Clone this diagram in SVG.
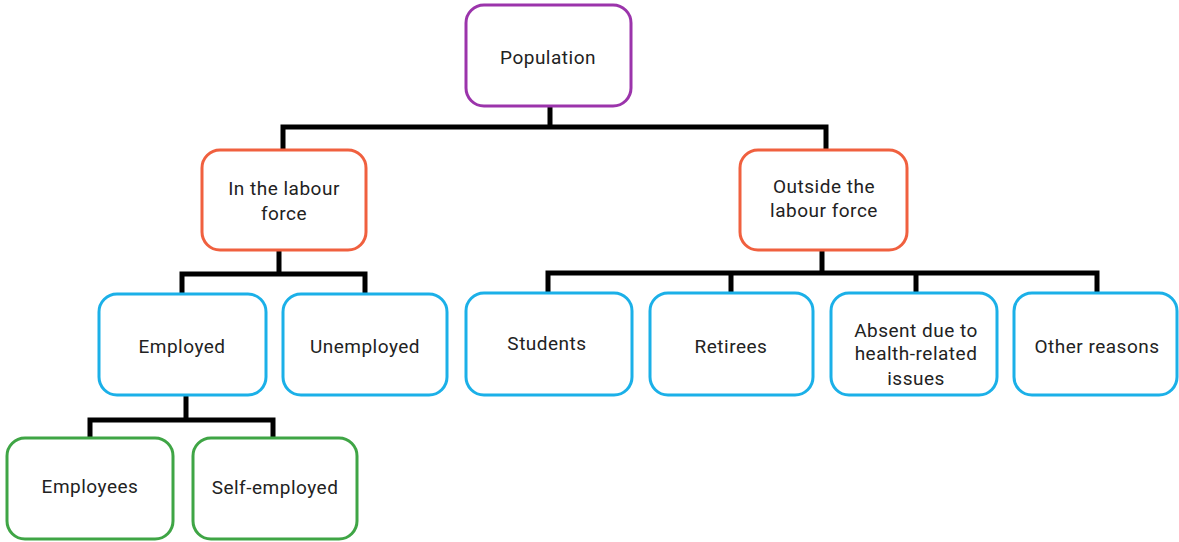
<svg xmlns="http://www.w3.org/2000/svg" width="1179" height="542" viewBox="0 0 1179 542">
<style>
.n{fill:#fff;stroke-width:3}
.p{stroke:#9b34ab}
.o{stroke:#f0603f}
.b{stroke:#1bb0e8}
.g{stroke:#3fa545}
text{font-family:Roboto,"Liberation Sans",sans-serif;font-size:19px;letter-spacing:0.5px;fill:#222;text-anchor:middle}
.c{fill:none;stroke:#000;stroke-width:5;stroke-linejoin:miter}
</style>
<rect width="1179" height="542" fill="#fff"/>
<g id="connectors">
<path class="c" d="M550,106V127M283,150V127H826V150"/>
<path class="c" d="M279,250V274M182,294V274H365V294"/>
<path class="c" d="M822,250V273M548,293V273H1097V293M731,273V293M916,273V293"/>
<path class="c" d="M186,395V420M90,438V420H273V438"/>
</g>
<g id="population"><rect class="n p" x="466" y="5" width="165" height="101" rx="18"/><text x="548" y="64">Population</text></g>
<g id="in-labour"><rect class="n o" x="202" y="150" width="164" height="100" rx="18"/><text x="284" y="195">In the labour</text><text x="284" y="220">force</text></g>
<g id="outside-labour"><rect class="n o" x="740" y="150" width="167" height="100" rx="18"/><text x="824" y="193">Outside the</text><text x="824" y="217">labour force</text></g>
<g id="employed"><rect class="n b" x="99" y="294" width="167" height="101" rx="18"/><text x="182" y="353">Employed</text></g>
<g id="unemployed"><rect class="n b" x="283" y="294" width="164" height="101" rx="18"/><text x="365" y="353">Unemployed</text></g>
<g id="students"><rect class="n b" x="466" y="293" width="166" height="102" rx="18"/><text x="547" y="350">Students</text></g>
<g id="retirees"><rect class="n b" x="650" y="293" width="163" height="102" rx="18"/><text x="731" y="353">Retirees</text></g>
<g id="absent"><rect class="n b" x="831" y="293" width="166" height="102" rx="18"/><text x="916" y="337">Absent due to</text><text x="916" y="360">health-related</text><text x="916" y="385">issues</text></g>
<g id="other"><rect class="n b" x="1014" y="293" width="163" height="102" rx="18"/><text x="1097" y="353">Other reasons</text></g>
<g id="employees"><rect class="n g" x="7" y="438" width="166" height="101" rx="18"/><text x="90" y="493">Employees</text></g>
<g id="self-employed"><rect class="n g" x="193" y="438" width="164" height="101" rx="18"/><text x="275" y="494">Self-employed</text></g>
</svg>
